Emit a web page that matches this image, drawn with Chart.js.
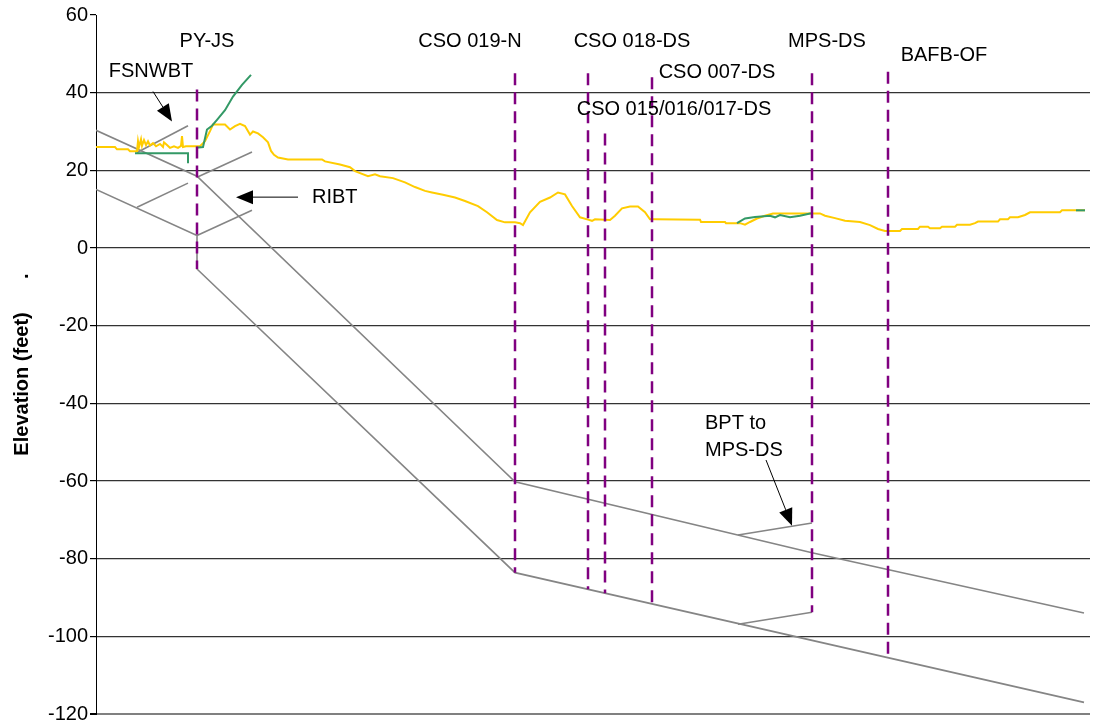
<!DOCTYPE html>
<html>
<head>
<meta charset="utf-8">
<title>Tunnel Profile</title>
<script src="https://cdn.jsdelivr.net/npm/chart.js@4.4.1/dist/chart.umd.min.js"></script>
<style>
  html, body { margin: 0; padding: 0; background: #fff; }
  #wrap { width: 1093px; height: 728px; }
</style>
</head>
<body>
<div id="wrap"><canvas id="c" width="1093" height="728"></canvas></div>
<script>
// Stationing along the alignment (x) and elevations in feet (y)
const yTicks = [-120, -100, -80, -60, -40, -20, 0, 20, 40, 60];

// Ground surface profile
const groundX = [0, 19, 21, 32, 34, 41, 42, 43, 45, 46, 48, 50, 52, 54, 57, 60, 64, 67, 68, 71, 74, 78, 82, 85, 86, 87, 90, 92,
  104, 109, 114, 117, 129, 134, 139, 144, 149, 154, 157, 162, 167, 172, 175, 178, 182, 192, 226, 229, 244, 254, 259, 272,
  279, 284, 297, 309, 319, 329, 336, 347, 359, 369, 382, 391, 401, 409, 419, 424, 427, 434, 444, 454, 462, 469, 476, 484,
  492, 496, 499, 514, 519, 526, 534, 542, 549, 554, 559, 604, 605, 629, 630, 644, 649, 654, 661, 669, 677, 724, 729, 739,
  749, 764, 774, 782, 789, 804, 806, 822, 824, 832, 834, 844, 846, 859, 861, 874, 879, 882, 902, 904, 912, 914, 922, 929,
  934, 964, 966, 989];
const groundY = [26.0, 26.0, 25.4, 25.4, 24.9, 24.9, 27.5, 26.0, 28.0, 26.3, 27.8, 26.5, 27.5, 26.4, 27.0, 26.2, 26.8, 26.0, 27.2, 26.5, 25.8, 26.2, 25.8, 26.3, 28.8, 26.0, 26.2, 26.2,
  26.2, 27.5, 30.1, 31.8, 31.8, 30.5, 31.4, 32.0, 31.4, 29.2, 30.0, 29.5, 28.5, 27.2, 25.0, 24.0, 23.3, 22.8, 22.8, 22.3, 21.5, 20.8, 19.8, 18.5,
  19.0, 18.5, 18.0, 16.9, 15.7, 14.7, 14.3, 13.7, 13.0, 12.1, 10.8, 9.2, 7.2, 6.6, 6.6, 6.4, 5.9, 9.2, 11.9, 13.0, 14.3, 13.8, 10.8, 7.9,
  7.3, 7.0, 7.4, 7.2, 8.3, 10.2, 10.7, 10.7, 9.2, 7.4, 7.4, 7.3, 6.7, 6.7, 6.4, 6.4, 6.0, 6.7, 7.6, 8.3, 8.9, 8.9, 8.3, 7.7,
  7.0, 6.7, 5.9, 4.9, 4.4, 4.4, 4.9, 4.9, 5.5, 5.5, 5.1, 5.1, 5.5, 5.5, 6.0, 6.0, 6.4, 6.8, 6.8, 7.4, 7.4, 7.9, 7.9, 8.5,
  9.2, 9.2, 9.7, 9.7];

// Surveyed surface segments
const survey1X = [39, 92, 92];
const survey1Y = [24.4, 24.4, 21.8];
const survey2X = [100, 107, 111, 116, 121, 129, 137, 146, 155];
const survey2Y = [25.8, 26.0, 30.5, 31.5, 33.0, 35.5, 39.0, 42.0, 44.6];
const survey3X = [641, 649, 659, 674, 679, 684, 694, 704, 714, 716];
const survey3Y = [6.4, 7.6, 8.0, 8.3, 7.9, 8.5, 7.9, 8.3, 8.9, 8.9];
const survey4X = [980, 989];
const survey4Y = [9.7, 9.7];

// Main tunnel crown and invert
const crownX = [0, 101, 419, 716, 988];
const crownY = [30.3, 18.5, -60.2, -78.5, -94.0];
const invertX = [0, 101, 101, 419, 988];
const invertY = [15.1, 3.2, -5.4, -83.6, -117.0];

// Branch tunnels: FSNWBT, RIBT, BPT to MPS-DS
const fsnCrownX = [41, 92];   const fsnCrownY = [24.6, 31.5];
const fsnInvertX = [41, 92];  const fsnInvertY = [10.5, 16.7];
const ribCrownX = [101, 156]; const ribCrownY = [18.2, 24.7];
const ribInvertX = [101, 156]; const ribInvertY = [3.2, 9.7];
const bptCrownX = [642, 716]; const bptCrownY = [-73.9, -70.8];
const bptInvertX = [642, 716]; const bptInvertY = [-96.9, -93.8];

// Drop shafts
const shaftNames = ['PY-JS', 'CSO 019-N', 'CSO 018-DS', 'CSO 015/016/017-DS', 'CSO 007-DS', 'MPS-DS', 'BAFB-OF'];
const shaftX = [101, 419, 492, 509, 556, 716, 792];
const shaftTop = [40.8, 45.0, 45.0, 29.5, 44.0, 45.0, 45.4];
const shaftBottom = [-5.4, -83.6, -87.9, -88.9, -91.6, -93.8, -105.5];

// Text labels (x, y in data units; align)
const labelText = ['PY-JS', 'CSO 019-N', 'CSO 018-DS', 'MPS-DS', 'BAFB-OF', 'FSNWBT', 'CSO 007-DS', 'CSO 015/016/017-DS', 'RIBT', 'BPT to', 'MPS-DS'];
const labelX = [111, 374, 536, 731, 848, 55, 621, 578, 216, 609, 609];
const labelY = [53.1, 53.1, 53.1, 53.1, 49.7, 45.4, 45.1, 35.6, 13.1, -45.1, -52.1];
const labelAlign = ['center', 'center', 'center', 'center', 'center', 'center', 'center', 'center', 'left', 'left', 'left'];

// Callout arrows (tail -> head)
const arrowFromX = [57, 202, 670];
const arrowFromY = [40.3, 13.1, -54.6];
const arrowToX = [76, 140, 696];
const arrowToY = [32.6, 13.1, -71.5];

const FONT = '"Liberation Sans", Arial, Helvetica, sans-serif';

function pts(xs, ys) { return xs.map((x, i) => ({ x: x, y: ys[i] })); }

function line(xs, ys, color, width, order, dash) {
  return {
    data: pts(xs, ys),
    borderColor: color,
    borderWidth: width,
    borderDash: dash || [],
    pointRadius: 0,
    fill: false,
    tension: 0,
    order: order
  };
}

const GRAY = '#858585';
const YELLOW = '#ffcc00';
const GREEN = '#339966';
const PURPLE = '#800080';

const datasets = [
  line(crownX, crownY, GRAY, 1.6, 4),
  line(invertX, invertY, GRAY, 1.6, 4),
  line(fsnCrownX, fsnCrownY, GRAY, 1.6, 4),
  line(fsnInvertX, fsnInvertY, GRAY, 1.6, 4),
  line(ribCrownX, ribCrownY, GRAY, 1.6, 4),
  line(ribInvertX, ribInvertY, GRAY, 1.6, 4),
  line(bptCrownX, bptCrownY, GRAY, 1.6, 4),
  line(bptInvertX, bptInvertY, GRAY, 1.6, 4),
  line(groundX, groundY, YELLOW, 2, 3),
  line(survey1X, survey1Y, GREEN, 2, 2),
  line(survey2X, survey2Y, GREEN, 2, 2),
  line(survey3X, survey3Y, GREEN, 2, 2),
  line(survey4X, survey4Y, GREEN, 2, 2)
];
shaftX.forEach((x, i) => {
  datasets.push(line([x, x], [shaftTop[i], shaftBottom[i]], PURPLE, 2.5, 1, [12, 7]));
});

const annotate = {
  id: 'annotate',
  afterDatasetsDraw(chart) {
    const ctx = chart.ctx, xs = chart.scales.x, ys = chart.scales.y;
    ctx.save();
    ctx.fillStyle = '#000';
    ctx.font = '20px ' + FONT;
    ctx.textBaseline = 'middle';
    labelText.forEach((t, i) => {
      ctx.textAlign = labelAlign[i];
      ctx.fillText(t, xs.getPixelForValue(labelX[i]), ys.getPixelForValue(labelY[i]));
    });
    ctx.strokeStyle = '#000';
    ctx.lineWidth = 1;
    arrowFromX.forEach((fx, i) => {
      const x1 = xs.getPixelForValue(fx), y1 = ys.getPixelForValue(arrowFromY[i]);
      const x2 = xs.getPixelForValue(arrowToX[i]), y2 = ys.getPixelForValue(arrowToY[i]);
      const a = Math.atan2(y2 - y1, x2 - x1);
      const len = 17, half = 7;
      const bx = x2 - len * Math.cos(a), by = y2 - len * Math.sin(a);
      ctx.beginPath();
      ctx.moveTo(x1, y1);
      ctx.lineTo(bx, by);
      ctx.stroke();
      ctx.beginPath();
      ctx.moveTo(x2, y2);
      ctx.lineTo(bx + half * Math.sin(a), by - half * Math.cos(a));
      ctx.lineTo(bx - half * Math.sin(a), by + half * Math.cos(a));
      ctx.closePath();
      ctx.fill();
    });
    ctx.restore();
  }
};

new Chart(document.getElementById('c'), {
  type: 'line',
  data: { datasets: datasets },
  options: {
    responsive: false,
    animation: false,
    events: [],
    layout: { padding: { top: 15, bottom: 11, right: 3, left: 0 } },
    plugins: { legend: { display: false }, tooltip: { enabled: false } },
    scales: {
      x: { type: 'linear', min: 0, max: 994, display: false },
      y: {
        type: 'linear',
        min: yTicks[0],
        max: yTicks[yTicks.length - 1],
        afterBuildTicks(scale) { scale.ticks = yTicks.map(v => ({ value: v })); },
        afterFit(scale) { scale.width = 96; },
        ticks: { color: '#000', font: { family: FONT, size: 20 }, padding: 2 },
        border: { color: '#000', width: 1 },
        grid: {
          color: (c) => c.tick && c.tick.value === 60 ? 'rgba(0,0,0,0)' : (c.tick && c.tick.value === -120 ? '#808080' : '#333'),
          lineWidth: (c) => c.tick && c.tick.value === -120 ? 2 : 1.2,
          tickColor: '#000',
          tickLength: 6
        },
        title: {
          display: true,
          text: 'Elevation (feet)      .',
          color: '#000',
          font: { family: FONT, size: 20, weight: 'bold' },
          padding: { top: 10, bottom: 0 }
        }
      }
    }
  },
  plugins: [annotate]
});
</script>
</body>
</html>
